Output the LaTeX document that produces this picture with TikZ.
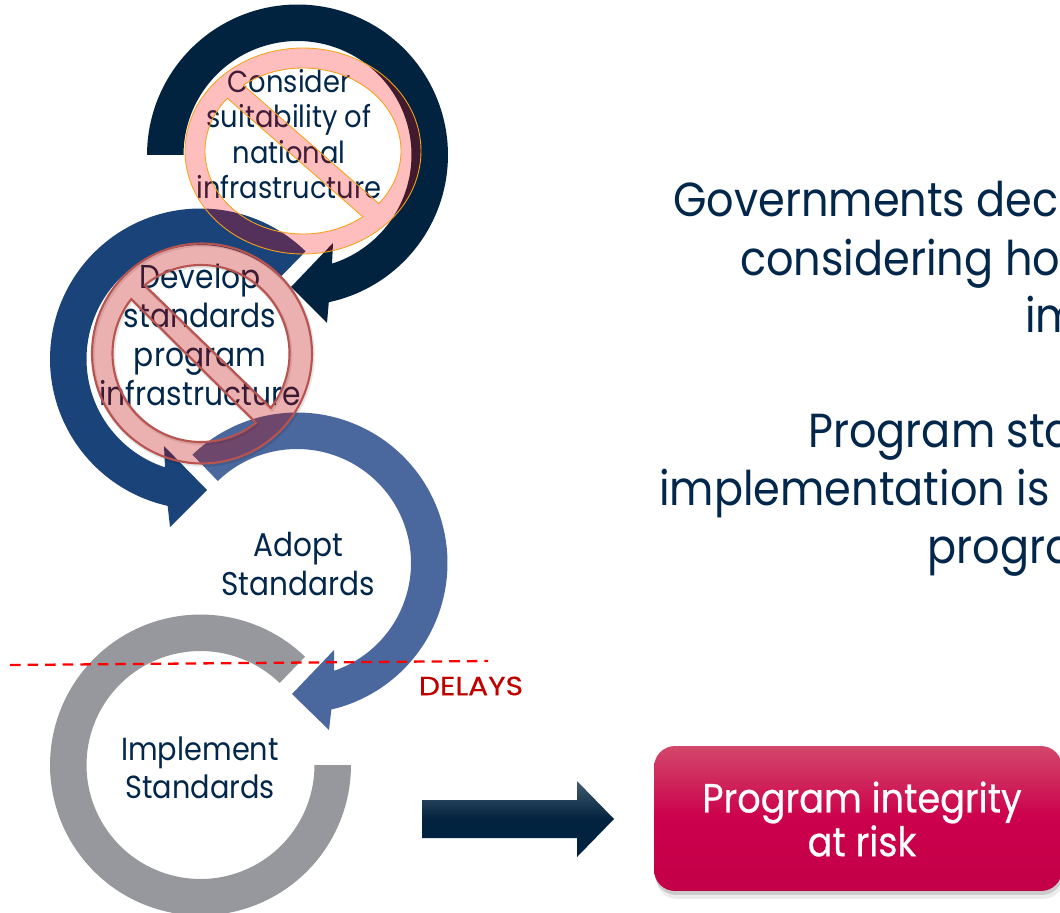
\documentclass[tikz,border=0pt]{standalone}
\usepackage{fontspec}
\setmainfont{Poppins}[FakeStretch=0.9]
\usetikzlibrary{shadows}
\definecolor{navy}{HTML}{02233F}
\definecolor{midblue}{HTML}{1A4379}
\definecolor{softblue}{HTML}{4A689E}
\definecolor{steel}{HTML}{96989E}
\definecolor{inktext}{HTML}{02274B}
\definecolor{signedge}{HTML}{F7A21D}
\definecolor{signrim}{HTML}{B85450}
\definecolor{delayred}{HTML}{C00000}
\definecolor{risktop}{HTML}{D2476A}
\definecolor{riskmid}{HTML}{CC004C}
\definecolor{riskend}{HTML}{C20048}
\newcommand{\ellarc}[6]{plot[domain=#5:#6,samples=120] ({#1+#3*cos(\x)},{#2+#4*sin(\x)})}
\newcommand{\ellto}[6]{-- plot[domain=#5:#6,samples=120] ({#1+#3*cos(\x)},{#2+#4*sin(\x)})}
\begin{document}
\begin{tikzpicture}[x=0.02cm, y=-0.02cm,
    looptext/.style 2 args = {text=inktext, align=center, font=\fontsize{#1}{#2}\selectfont, inner sep=0pt},
    bodytext/.style = {text=inktext, anchor=base west, font=\fontsize{27.2}{30}\selectfont, inner sep=0pt},
    signone/.style = {even odd rule, fill=red, fill opacity=.255, draw=signedge, line width=.5pt},
    signtwo/.style = {even odd rule, fill=delayred, fill opacity=.31, draw=signrim, line width=1.2pt,
        preaction={draw=black, draw opacity=.1, line width=2pt, transform canvas={xshift=.02cm,yshift=-.03cm}}}]
    \useasboundingbox (0,0) rectangle (1060,912);
    \clip (0,0) rectangle (1060,912);

    % loop bands
    \fill[steel] \ellarc{200.5}{765}{150.5}{150.5}{0}{314} \ellto{200.5}{765}{114}{114}{314}{0} -- cycle;
    \fill[softblue] \ellarc{297}{563}{150.5}{150.5}{226}{436.8} -- (329,730) -- (292,694) -- (334,650) -- (334,671) \ellto{297}{563}{114}{114}{431}{226} -- cycle;
    \fill[midblue] \ellarc{200.5}{359}{150.5}{150.5}{-45.7}{-257.4} -- (170,527) -- (207,490) -- (164,446) -- (165,467) \ellto{200.5}{359}{114}{114}{-251.8}{-45.7} -- cycle;
    \fill[navy] \ellarc{297.5}{155}{150.5}{150.5}{180}{438} -- (327,323) -- (291,287) -- (333,243) -- (332,264) \ellto{297.5}{155}{114}{114}{432.5}{180} -- cycle;

    \node[looptext={17.3}{20.1}] (consider) at (289,134) {Consider\\suitability of\\national\\infrastructure};
    \node[looptext={18.8}{22.1}] (develop) at (200,335) {Develop\\standards\\program\\infrastructure};
    \node[looptext={18.7}{22.1}] (adopt) at (298,564) {Adopt\\Standards};
    \node[looptext={18.2}{21.5}] (implement) at (200,768) {Implement\\Standards};

    % crossed out steps
    \path[signone] \ellarc{303}{151}{118}{103}{0}{360} -- cycle
        \ellarc{303}{151}{98}{83}{232.5}{399.3} -- cycle
        \ellarc{303}{151}{98}{83}{52.4}{219.5} -- cycle;
    \path[signtwo] \ellarc{202}{353.5}{110}{110}{0}{360} -- cycle
        \ellarc{201}{353.5}{88.5}{88.5}{230.4}{397.9} -- cycle
        \ellarc{201}{353.5}{88.5}{88.5}{51.6}{217.9} -- cycle;

    \coordinate (delayl) at (10,665);
    \coordinate (delayr) at (488,661);
    \draw[red, line width=1.3pt, dash pattern=on 6pt off 4pt] (delayl) -- (delayr);
    \node[text=delayred, font=\fontsize{15}{15}\selectfont\addfontfeatures{FakeStretch=1.13,FakeBold=.4}, inner sep=0pt] (delays) at (471,686) {DELAYS};

    \path[top color=navy!75!white, bottom color=navy, middle color=navy] (422,800) -- (577,800) -- (577,781) -- (614,819) -- (577,857) -- (577,838) -- (422,838) -- cycle;

    \node[rounded corners=0.42cm, minimum width=8.16cm, minimum height=2.9cm, top color=risktop, bottom color=riskend, middle color=riskmid,
        drop shadow={shadow xshift=0.04cm, shadow yshift=-0.16cm, opacity=.15},
        drop shadow={shadow xshift=0.02cm, shadow yshift=-0.08cm, opacity=.3}] (risk) at (858,818.5) {};
    \node[text=white, align=center, font=\fontsize{23.2}{24.9}\selectfont\addfontfeatures{FakeBold=.5}, inner sep=0pt] (risklabel) at (862,819) {Program integrity\\at risk};

    % text running off the page
    \node[bodytext] (gov) at (673,216) {Governments dec};
    \node[bodytext] (cons) at (740,275) {considering ho};
    \node[bodytext] (im) at (1025,332.7) {im};
    \node[bodytext] (prog) at (808,447) {Program sta};
    \node[bodytext] (impl) at (659,505) {implementation is};
    \node[bodytext] (progra) at (927,563.5) {progra};
\end{tikzpicture}
\end{document}
